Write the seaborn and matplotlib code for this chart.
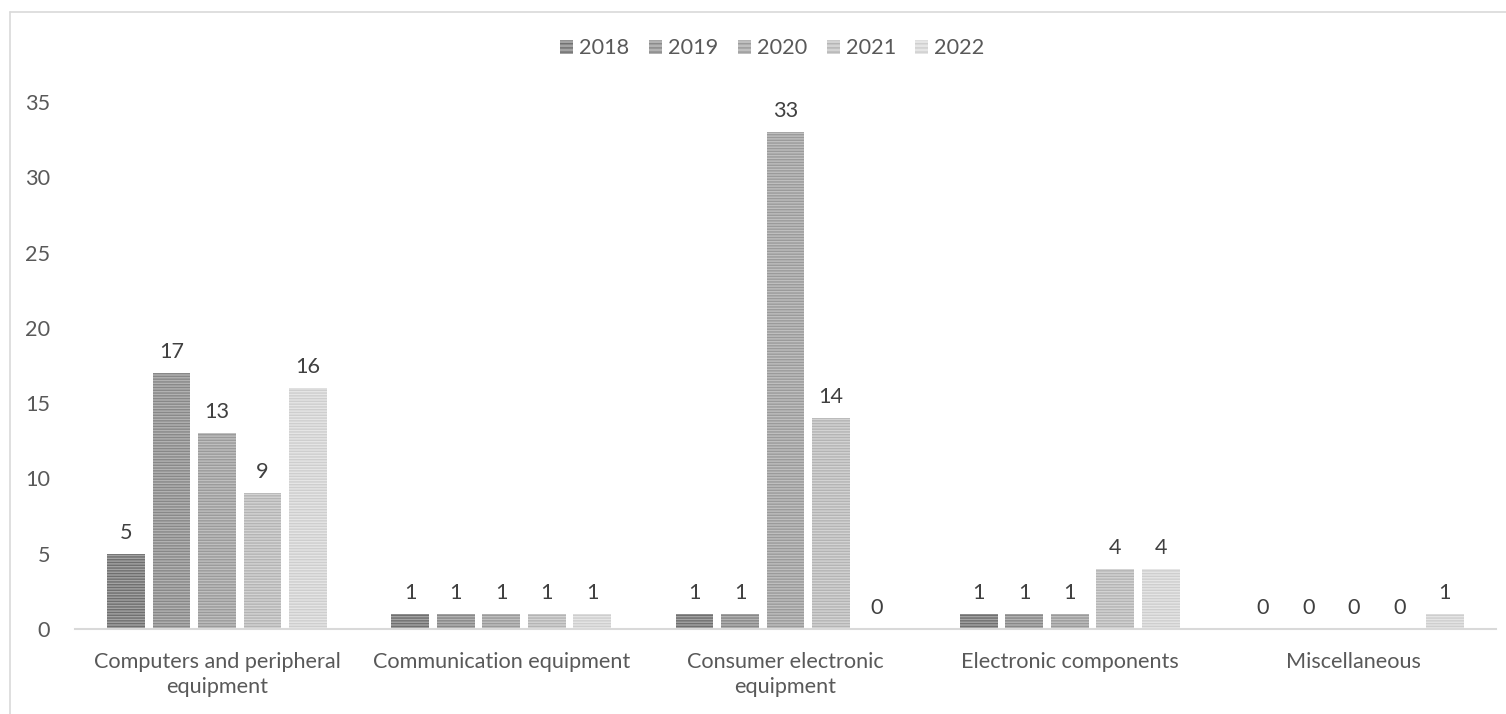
import matplotlib
matplotlib.use("Agg")
import matplotlib.pyplot as plt
import seaborn as sns
import pandas as pd
from matplotlib.lines import Line2D
from matplotlib.patches import Rectangle

categories = ["Computers and peripheral\nequipment", "Communication equipment",
              "Consumer electronic\nequipment", "Electronic components", "Miscellaneous"]
years = ["2018", "2019", "2020", "2021", "2022"]
v2018 = [5, 1, 1, 1, 0]
v2019 = [17, 1, 1, 1, 0]
v2020 = [13, 1, 33, 1, 0]
v2021 = [9, 1, 14, 4, 0]
v2022 = [16, 1, 0, 4, 1]
y_ticks = [0, 5, 10, 15, 20, 25, 30, 35]

series = {"2018": v2018, "2019": v2019, "2020": v2020, "2021": v2021, "2022": v2022}
rows = []
for yr in years:
    for cat, val in zip(categories, series[yr]):
        rows.append({"category": cat, "year": yr, "value": val})
df = pd.DataFrame(rows)

# face / stripe colours per year, dark to light
face_cols = ["#a3a3a3", "#b2b2b2", "#bfbfbf", "#d3d3d3", "#e5e5e5"]
stripe_cols = ["#6f6f6f", "#888888", "#9a9a9a", "#b4b4b4", "#cecece"]

FS = 15.6

sns.set_theme(style="white")
plt.rcParams["font.family"] = ["Lato", "DejaVu Sans"]
plt.rcParams["hatch.linewidth"] = 1.0

fig = plt.figure(figsize=(15.06, 7.14), dpi=100)
ax = fig.add_axes([75 / 1506, 1 - 629 / 714, 1421 / 1506, (629 - 102) / 714])

sns.barplot(data=df, x="category", y="value", hue="year", hue_order=years,
            order=categories, palette=face_cols, width=0.8, gap=0.17,
            legend=False, ax=ax)

handles = []
for i, cont in enumerate(ax.containers):
    for bar in cont:
        bar.set_facecolor(face_cols[i])
        bar.set_edgecolor(stripe_cols[i])
        bar.set_linewidth(0)
        bar.set_hatch("------")
    ax.bar_label(cont, labels=[str(v) for v in series[years[i]]], padding=8,
                 fontsize=FS, color="#404040")
    handles.append(Rectangle((0, 0), 1, 1, facecolor=face_cols[i],
                             edgecolor=stripe_cols[i], linewidth=0, hatch="----"))

ax.set_xlim(-0.5, 4.5)
ax.set_ylim(0, 35)
ax.set_yticks(y_ticks)
ax.set_xlabel("")
ax.set_ylabel("")
for side in ["top", "right", "left"]:
    ax.spines[side].set_visible(False)
ax.spines["bottom"].set_color("#d9d9d9")
ax.spines["bottom"].set_linewidth(1.5)
ax.tick_params(axis="y", length=0, pad=18, labelsize=FS, labelcolor="#595959")
ax.tick_params(axis="x", length=0, pad=16.5, labelsize=FS, labelcolor="#595959")
for lbl in ax.get_xticklabels():
    lbl.set_linespacing(1.32)

fig.legend(handles, years, loc="center", bbox_to_anchor=(772.5 / 1506, 1 - 48.5 / 714),
           ncol=5, frameon=False, fontsize=FS, labelcolor="#595959",
           handlelength=0.6, handleheight=0.6, handletextpad=0.28,
           columnspacing=0.9)

# outer chart-area border (top and left edges)
fig.add_artist(Line2D([10 / 1506, 1.0], [1 - 12 / 714, 1 - 12 / 714],
                      transform=fig.transFigure, color="#d9d9d9", lw=1.2))
fig.add_artist(Line2D([10 / 1506, 10 / 1506], [0.0, 1 - 12 / 714],
                      transform=fig.transFigure, color="#d9d9d9", lw=1.2))

fig.savefig("out.png", dpi=100, facecolor="white")
